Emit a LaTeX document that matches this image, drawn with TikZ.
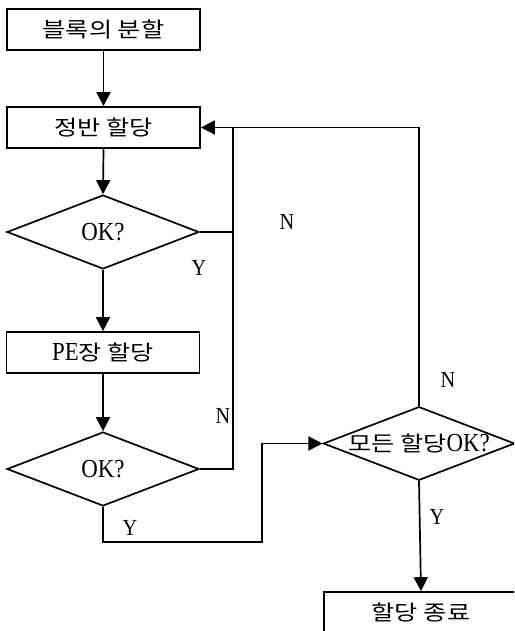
\documentclass[tikz,border=0pt]{standalone}
\usepackage{fontspec}
\setmainfont{Liberation Serif}[FakeStretch=0.88]
\newfontfamily\kr{Noto Sans CJK KR}[FakeStretch=1.2]
\usetikzlibrary{shapes.geometric,arrows.meta}
\tikzset{
  box/.style={draw,line width=1.7pt,rectangle,inner sep=0pt,minimum width=193pt,minimum height=41pt,font=\fontsize{26pt}{28pt}\selectfont},
  dia/.style={draw,line width=1.7pt,diamond,inner sep=0pt,aspect=2.6,minimum width=192pt,minimum height=74pt,font=\fontsize{26pt}{28pt}\selectfont},
  arr/.style={line width=1.7pt,-{Triangle[length=14pt,width=14pt]}},
  ln/.style={line width=1.7pt},
  lab/.style={font=\fontsize{23pt}{25pt}\selectfont,inner sep=0pt}
}
\newcommand{\krt}{\kr\fontsize{21pt}{24pt}\selectfont}
\begin{document}
\begin{tikzpicture}[x=1pt,y=-1pt]
\clip (0,0) rectangle (514,631);
\fill[white] (0,0) rectangle (514,631);
\node[box] (b1) at (103.5,29.5) {\krt 블록의 분할};
\node[box] (b2) at (103.5,127.5) {\krt 정반 할당};
\node[dia] (d1) at (103,232) {OK?};
\node[box] (b3) at (103,352.5) {PE{\krt 장 할당}};
\node[dia] (d2) at (103,469) {OK?};
\node[dia,minimum width=188pt,minimum height=73pt] (d3) at (419,443.5) {{\krt 모든 할당}OK?};
\node[box,minimum width=194pt,minimum height=42pt] (b4) at (421,613) {\krt 할당 종료};
\coordinate (jtop) at (233,127.5);
\coordinate (jbot) at (262,542);
\draw[arr] (b1.south) -- (b2.north);
\draw[arr] (b2.south) -- (d1.north);
\draw[arr] (d1.south) -- (b3.north);
\draw[arr] (b3.south) -- (d2.north);
\draw[arr] (d3.north) |- (b2.east);
\draw[ln] (d2.east) -| (jtop);
\draw[ln] (d1.east) -- (d1.east -| jtop);
\draw[arr] (d2.south) |- (jbot) |- (d3.west);
\draw[arr] (d3.south) -- (b4.north);
\node[lab] (n1) at (287,222) {N};
\node[lab] (y1) at (199,268) {Y};
\node[lab] (n2) at (223,416) {N};
\node[lab] (y2) at (130,528) {Y};
\node[lab] (n3) at (448,380) {N};
\node[lab] (y3) at (437,517) {Y};
\end{tikzpicture}
\end{document}
